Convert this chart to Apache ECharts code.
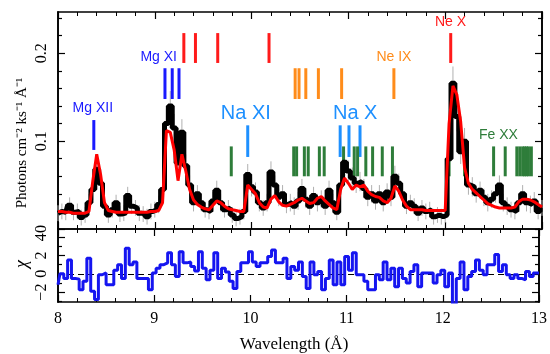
<!DOCTYPE html>
<html>
<head>
<meta charset="utf-8">
<script src="https://cdn.jsdelivr.net/npm/echarts@6/dist/echarts.min.js"></script>
<style>
html, body { margin: 0; padding: 0; background: #fff; }
#chart { width: 550px; height: 354px; }
</style>
</head>
<body>
<div id="chart"></div>
<script>
// spectrum binned at 0.04 A starting at 8.00 A
var binStart = 8.0;
var binWidth = 0.04;

var flux = [
  0.018,0.020,0.019,0.027,0.019,0.020,0.013,0.016,0.030,0.045,
  0.068,0.052,0.026,0.016,0.022,0.030,0.017,0.018,0.038,0.026,
  0.024,0.018,0.017,0.014,0.020,0.022,0.028,0.045,0.120,0.140,
  0.115,0.075,0.110,0.072,0.050,0.030,0.040,0.030,0.022,0.020,
  0.032,0.044,0.030,0.022,0.024,0.016,0.012,0.014,0.020,0.062,
  0.048,0.042,0.030,0.024,0.030,0.065,0.050,0.036,0.040,0.028,
  0.030,0.026,0.032,0.046,0.034,0.026,0.038,0.030,0.034,0.026,
  0.044,0.030,0.019,0.050,0.076,0.066,0.058,0.052,0.054,0.046,
  0.036,0.040,0.032,0.040,0.030,0.042,0.036,0.060,0.052,0.040,
  0.026,0.030,0.026,0.018,0.024,0.020,0.022,0.014,0.016,0.014,
  0.016,0.080,0.166,0.128,0.088,0.100,0.050,0.048,0.040,0.044,
  0.036,0.030,0.034,0.040,0.050,0.030,0.026,0.022,0.020,0.030,
  0.040,0.030,0.028,0.032,0.020,0.024
];

var fluxErr = [
  0.009,0.009,0.009,0.009,0.009,0.009,0.009,0.009,0.010,0.012,
  0.014,0.013,0.010,0.009,0.009,0.009,0.009,0.009,0.010,0.009,
  0.009,0.009,0.009,0.009,0.009,0.009,0.010,0.011,0.016,0.017,
  0.016,0.013,0.015,0.013,0.011,0.010,0.010,0.010,0.009,0.009,
  0.010,0.011,0.010,0.009,0.009,0.009,0.009,0.009,0.009,0.012,
  0.011,0.011,0.010,0.009,0.010,0.012,0.011,0.010,0.010,0.010,
  0.010,0.010,0.010,0.011,0.010,0.010,0.010,0.010,0.010,0.010,
  0.011,0.010,0.009,0.011,0.013,0.012,0.012,0.011,0.011,0.011,
  0.010,0.010,0.010,0.010,0.010,0.010,0.010,0.012,0.011,0.010,
  0.009,0.009,0.009,0.009,0.009,0.009,0.009,0.009,0.009,0.009,
  0.009,0.014,0.019,0.017,0.014,0.015,0.011,0.011,0.010,0.010,
  0.010,0.010,0.010,0.010,0.011,0.010,0.010,0.009,0.009,0.010,
  0.010,0.010,0.010,0.010,0.009,0.009
];

var model = [
  0.020,0.020,0.019,0.019,0.018,0.018,0.018,0.018,0.020,0.055,
  0.085,0.062,0.030,0.021,0.020,0.019,0.019,0.019,0.019,0.019,
  0.019,0.019,0.019,0.019,0.020,0.020,0.021,0.030,0.112,0.110,
  0.090,0.055,0.085,0.066,0.045,0.033,0.028,0.025,0.023,0.022,
  0.027,0.032,0.030,0.026,0.023,0.022,0.021,0.020,0.020,0.050,
  0.045,0.040,0.030,0.025,0.024,0.034,0.038,0.031,0.027,0.026,
  0.028,0.030,0.033,0.035,0.032,0.029,0.030,0.035,0.037,0.032,
  0.028,0.024,0.022,0.045,0.058,0.052,0.045,0.050,0.048,0.050,
  0.043,0.039,0.037,0.036,0.032,0.030,0.035,0.049,0.043,0.033,
  0.026,0.022,0.022,0.022,0.022,0.021,0.021,0.021,0.021,0.021,
  0.021,0.120,0.163,0.153,0.122,0.070,0.052,0.045,0.041,0.037,
  0.033,0.029,0.027,0.025,0.024,0.024,0.024,0.024,0.025,0.031,
  0.034,0.034,0.033,0.031,0.028,0.025
];

var chi = [
  -1.2, 0.0, -0.5, 1.5, -0.5, -0.6, -1.75, -0.8, 1.7, -1.9,
  -2.8, -0.1, 0.1, -1.2, -1.2, 0.4, 1.0, -0.5, 2.8, 1.0,
  1.3, -0.5, -0.5, -0.5, -1.75, 0.1, 0.6, 1.0, 1.2, 2.3,
  1.0, -0.3, 2.4, 1.2, 1.3, 0.8, 0.3, 2.4, 0.6, -0.65,
  0.4, 2.3, -0.5, 0.6, 0.2, -0.8, -1.6, 0.25, 1.2, 1.2,
  2.4, 1.3, 0.8, 1.2, 1.2, 1.9, 2.6, 1.2, 1.2, 1.7,
  -0.5, 0.8, 0.4, 1.3, -0.3, -1.6, 1.3, -0.1, 0.25, -1.75,
  -0.5, 1.5, -1.2, 1.3, -1.2, 1.9, 0.4, 2.3, -0.1, -0.1,
  -0.8, -1.75, -1.75, -0.1, -0.65, 1.3, -0.65, 0.6, -1.4, 0.6,
  -0.5, -1.0, 0.25, 1.0, -1.4, 0.1, 0.1, 0.1, -1.0, -0.1,
  0.4, -1.4, 0.1, -3.3, -0.5, 1.3, -1.75, -0.3, 0.25, 1.5,
  0.4, -0.1, 1.0, 1.0, 2.1, 0.25, 1.0, -0.1, -0.5, -0.1,
  -0.5, -0.65, 0.25, -0.3, 0.1, 0.1
];

// axis ticks
var fluxTicks = [0, 0.1, 0.2];
var fluxMinorTicks = [0.02, 0.04, 0.06, 0.08, 0.12, 0.14, 0.16, 0.18, 0.22, 0.24];
var chiTicks = [-2, 0, 2, 4];
var chiMinorTicks = [-3, -1, 1, 3];

// identified lines (observed wavelengths, A)
var mgXIILines = [8.37];
var mgXILines = [9.105, 9.18, 9.25];
var naXILines = [9.96];
var naXLines = [10.915, 11.006, 11.12];
var neXLines = [9.30, 9.42, 9.65, 10.18, 12.057];
var neIXLines = [10.45, 10.49, 10.56, 10.69, 10.93, 11.47];
var feXXLines = [9.79, 10.435, 10.465, 10.545, 10.585, 10.70, 10.75, 10.95, 11.06, 11.095,
                 11.18, 11.25, 11.35, 11.455, 12.04, 12.20, 12.50, 12.62, 12.74, 12.77,
                 12.80, 12.82, 12.84, 12.86, 12.89];

var ionNames = ['Mg XII', 'Mg XI', 'Na XI', 'Na X', 'Ne X', 'Ne IX', 'Fe XX'];
var ionLabelWave = [8.36, 9.04, 9.94, 11.07, 12.055, 11.47, 12.55];
var ionLabelFlux = [0.138, 0.196, 0.132, 0.132, 0.236, 0.196, 0.107];

var MG = '#1a1aff', NA = '#1e90ff', NEX = '#ff1a1a', NEIX = '#ff8c1a', FE = '#2e7d3a';
var labelColors = [MG, MG, NA, NA, NEX, NEIX, FE];
var labelSizes = [14, 14, 20, 20, 14, 14, 14];

function binned(vals) {
  return vals.map(function (v, i) { return [binStart + i * binWidth, v]; });
}

var chart = echarts.init(document.getElementById('chart'), null, { renderer: 'canvas' });

var black = { color: '#000', width: 1.6 };
var serif = '"Liberation Serif", "Times New Roman", serif';

function xAxisFor(grid, pos, labels) {
  return {
    type: 'value', gridIndex: grid, position: pos, min: 8, max: 13, interval: 1,
    axisLine: { show: true, onZero: false, lineStyle: black },
    axisTick: { show: true, inside: true, length: 7, lineStyle: { color: '#000', width: 1.2 } },
    minorTick: { show: true, splitNumber: 5, length: 4, lineStyle: { color: '#000', width: 1 } },
    axisLabel: { show: labels, color: '#000', fontFamily: serif, fontSize: 16, margin: 9 },
    splitLine: { show: false }, minorSplitLine: { show: false }
  };
}

function yAxisFor(grid, pos, min, max, ticks, len, labels) {
  return {
    type: 'value', gridIndex: grid, position: pos, min: min, max: max,
    axisLine: { show: true, onZero: false, lineStyle: black },
    axisTick: { show: true, inside: true, length: len, customValues: ticks,
                lineStyle: { color: '#000', width: 1.2 } },
    axisLabel: labels ? {
      show: true, customValues: labels, rotate: 90, color: '#000', fontFamily: serif,
      fontSize: 16, margin: 8,
      formatter: function (v) { return v < 0 ? '\u2212' + (-v) : String(v); }
    } : { show: false },
    splitLine: { show: false }
  };
}

function lineMarks(waves, lo, hi, color) {
  return {
    type: 'custom', xAxisIndex: 0, yAxisIndex: 0, z: 3, silent: true,
    data: waves.map(function (w) { return [w, lo, hi]; }),
    renderItem: function (params, api) {
      var a = api.coord([api.value(0), api.value(1)]);
      var b = api.coord([api.value(0), api.value(2)]);
      return { type: 'line', shape: { x1: a[0], y1: a[1], x2: b[0], y2: b[1] },
               style: { stroke: color, lineWidth: 3 } };
    }
  };
}

var errData = flux.map(function (v, i) { return [binStart + i * binWidth, v, fluxErr[i]]; });

var option = {
  animation: false,
  grid: [
    { left: 58, right: 8, top: 12, height: 217 },
    { left: 58, right: 8, top: 229, height: 73 }
  ],
  xAxis: [
    xAxisFor(0, 'bottom', false),
    xAxisFor(0, 'top', false),
    xAxisFor(1, 'bottom', true),
    xAxisFor(1, 'top', false)
  ],
  yAxis: [
    yAxisFor(0, 'left', 0, 0.247, fluxTicks, 7, fluxTicks),
    yAxisFor(0, 'left', 0, 0.247, fluxMinorTicks, 4, null),
    yAxisFor(0, 'right', 0, 0.247, fluxTicks, 7, null),
    yAxisFor(0, 'right', 0, 0.247, fluxMinorTicks, 4, null),
    yAxisFor(1, 'left', -3.08, 4.9, chiTicks, 7, chiTicks),
    yAxisFor(1, 'left', -3.08, 4.9, chiMinorTicks, 4, null),
    yAxisFor(1, 'right', -3.08, 4.9, chiTicks, 7, null),
    yAxisFor(1, 'right', -3.08, 4.9, chiMinorTicks, 4, null)
  ],
  series: [
    {
      type: 'custom', xAxisIndex: 0, yAxisIndex: 0, z: 2, silent: true,
      data: errData,
      renderItem: function (params, api) {
        var x = api.value(0), v = api.value(1), e = api.value(2);
        var a = api.coord([x, v - e]);
        var b = api.coord([x, v + e]);
        return { type: 'line', shape: { x1: a[0], y1: a[1], x2: b[0], y2: b[1] },
                 style: { stroke: '#b0b0b0', lineWidth: 1 } };
      }
    },
    lineMarks(mgXIILines, 0.090, 0.124, MG),
    lineMarks(mgXILines, 0.148, 0.183, MG),
    lineMarks(naXILines, 0.082, 0.118, NA),
    lineMarks(naXLines, 0.082, 0.118, NA),
    lineMarks(neXLines, 0.189, 0.223, NEX),
    lineMarks(neIXLines, 0.148, 0.183, NEIX),
    lineMarks(feXXLines, 0.060, 0.094, FE),
    {
      type: 'custom', xAxisIndex: 0, yAxisIndex: 0, z: 3, silent: true,
      data: ionNames.map(function (n, i) { return [ionLabelWave[i], ionLabelFlux[i], i]; }),
      renderItem: function (params, api) {
        var i = api.value(2);
        var p = api.coord([api.value(0), api.value(1)]);
        return {
          type: 'text', x: p[0], y: p[1],
          style: {
            text: ionNames[i], fill: labelColors[i],
            font: labelSizes[i] + 'px "Liberation Sans", Arial, sans-serif',
            align: 'center', verticalAlign: 'middle',
            textAlign: 'center', textVerticalAlign: 'middle'
          }
        };
      }
    },
    {
      type: 'line', xAxisIndex: 0, yAxisIndex: 0, z: 4, step: 'middle',
      data: binned(flux), symbol: 'none', silent: true,
      lineStyle: { color: '#000', width: 5 }
    },
    {
      type: 'line', xAxisIndex: 0, yAxisIndex: 0, z: 5,
      data: binned(model), symbol: 'none', silent: true,
      lineStyle: { color: '#ff0000', width: 3 }
    },
    {
      type: 'line', xAxisIndex: 2, yAxisIndex: 4, z: 4, step: 'middle',
      data: binned(chi), symbol: 'none', silent: true, clip: true,
      lineStyle: { color: '#1515f0', width: 3 },
      markLine: {
        silent: true, symbol: 'none', label: { show: false }, z: 3,
        lineStyle: { color: '#000', width: 1, type: [6, 4] },
        data: [{ yAxis: 0 }]
      }
    }
  ],
  graphic: [
    { type: 'text', x: 22, y: 143, rotation: Math.PI / 2,
      style: { text: 'Photons cm\u207B\u00B2 ks\u207B\u00B9 \u00C5\u207B\u00B9', fill: '#000',
               font: '15px ' + serif, align: 'center', verticalAlign: 'middle',
               textAlign: 'center', textVerticalAlign: 'middle' } },
    { type: 'text', x: 22, y: 264, rotation: Math.PI / 2,
      style: { text: '\u03C7', fill: '#000', font: 'italic 18px ' + serif,
               align: 'center', verticalAlign: 'middle',
               textAlign: 'center', textVerticalAlign: 'middle' } },
    { type: 'text', x: 294, y: 345,
      style: { text: 'Wavelength (\u00C5)', fill: '#000', font: '17px ' + serif,
               align: 'center', verticalAlign: 'middle',
               textAlign: 'center', textVerticalAlign: 'middle' } }
  ]
};

chart.setOption(option);
</script>
</body>
</html>
